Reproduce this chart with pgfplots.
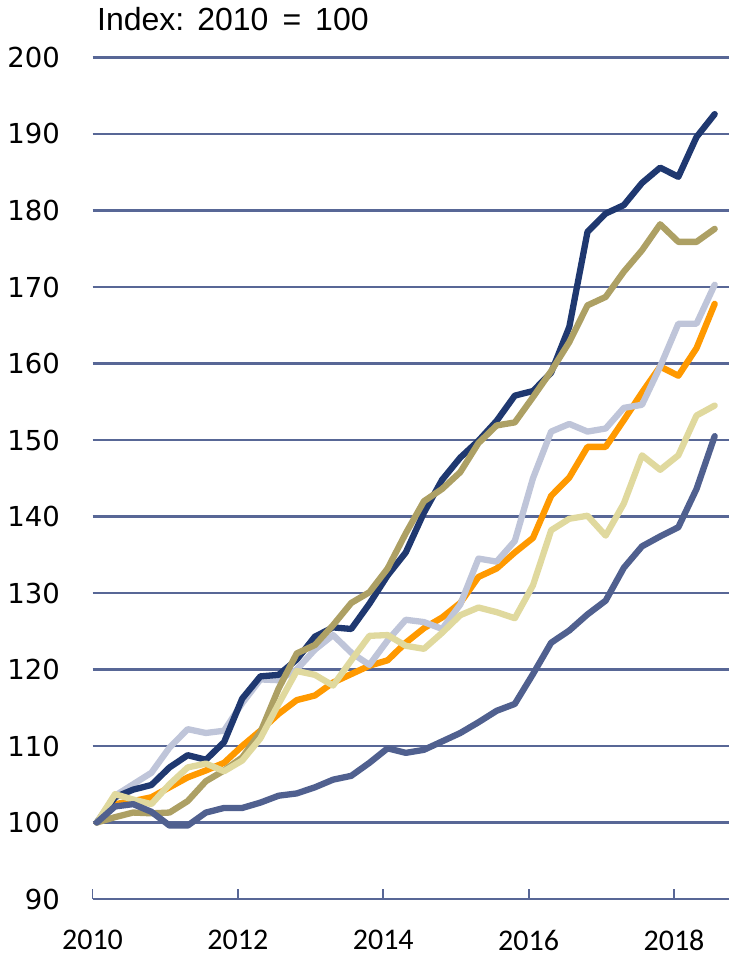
\documentclass[border=0pt]{standalone}
\usepackage{pgfplots}
\pgfplotsset{compat=1.18}
\usepackage{pgfplotstable}
\usepackage{fontspec}
\setmainfont{Liberation Sans}
\newfontfamily\yfont{DejaVu Sans}
\newfontfamily\xfont{Carlito}
\definecolor{navyc}{RGB}{31,56,112}
\definecolor{khakic}{RGB}{173,160,100}
\definecolor{lightc}{RGB}{191,197,217}
\definecolor{orangec}{RGB}{255,153,0}
\definecolor{beigec}{RGB}{224,217,158}
\definecolor{slatec}{RGB}{80,96,143}
\definecolor{gridc}{RGB}{88,103,150}

\pgfplotstableread{
t navy khaki light orange beige slate
2010.06 100 100 100 100 100 100
2010.31 103.3 100.7 103.5 102.4 103.7 102.1
2010.56 104.3 101.3 105.0 102.8 103.0 102.4
2010.81 104.9 101.2 106.5 103.3 102.4 101.4
2011.06 107.2 101.3 109.8 104.6 105.0 99.6
2011.31 108.8 102.8 112.2 105.9 107.2 99.6
2011.56 108.2 105.4 111.7 106.8 107.7 101.3
2011.81 110.5 106.8 112.0 107.8 106.7 101.9
2012.06 116.2 108.5 115.6 110.0 108.1 101.9
2012.31 119.1 111.8 118.7 112.0 111.0 102.6
2012.56 119.3 117.5 118.6 114.2 115.5 103.5
2012.81 121.3 122.1 120.0 116.0 119.8 103.8
2013.06 124.3 123.2 122.6 116.6 119.3 104.6
2013.31 125.5 125.8 124.5 118.3 117.9 105.6
2013.56 125.3 128.7 122.2 119.4 121.2 106.1
2013.81 128.6 130.1 120.6 120.5 124.4 107.8
2014.06 132.3 133.2 123.8 121.2 124.5 109.7
2014.31 135.3 137.8 126.5 123.5 123.1 109.1
2014.56 140.5 142.0 126.2 125.4 122.7 109.5
2014.81 144.8 143.6 125.3 126.8 124.8 110.6
2015.06 147.7 145.8 128.5 128.7 127.1 111.7
2015.31 149.9 149.6 134.5 132.1 128.1 113.1
2015.56 152.5 151.9 134.1 133.2 127.5 114.6
2015.81 155.8 152.3 136.8 135.3 126.7 115.5
2016.06 156.4 155.6 145.0 137.2 131.0 119.4
2016.31 158.8 159.0 151.1 142.7 138.2 123.5
2016.56 164.8 162.8 152.1 145.1 139.7 125.1
2016.81 177.2 167.6 151.1 149.1 140.1 127.2
2017.06 179.6 168.7 151.5 149.1 137.5 129.0
2017.31 180.7 172.0 154.2 152.6 141.7 133.3
2017.56 183.6 174.8 154.6 156.2 148.0 136.1
2017.81 185.6 178.2 159.6 159.6 146.1 137.4
2018.06 184.4 175.9 165.2 158.4 148.0 138.6
2018.31 189.6 175.9 165.2 162.0 153.2 143.6
2018.56 192.6 177.6 170.3 167.8 154.5 150.5
}\datatable

\begin{document}
\begin{tikzpicture}[x=1pt,y=1pt]
\path[use as bounding box] (0,0) rectangle (730,957);
\node[anchor=base west, inner sep=0pt, font=\fontsize{32}{32}\selectfont] at (97,926) {Index:\hspace{13pt}2010\hspace{14pt}=\hspace{14pt}100};
\begin{axis}[
  at={(92.5pt,58pt)}, anchor=south west,
  scale only axis, width=636pt, height=841.5pt,
  xmin=2010, xmax=2018.75, ymin=90, ymax=200,
  axis x line*=bottom, axis y line*=left,
  y axis line style={draw=none},
  x axis line style={draw=gridc, line width=2.2pt},
  xtick={2010,2012,2014,2016,2018},
  xticklabels={2010,2012,2014,2016,2018},
  ytick={90,100,...,200},
  ymajorgrids,
  major grid style={draw=gridc, line width=2.2pt},
  tick align=inside,
  major tick length=10pt,
  xtick style={draw=gridc, line width=1.8pt},
  ytick style={draw=none},
  /pgf/number format/assume math mode=true,
  /pgf/number format/1000 sep={},
  yticklabel style={font=\yfont\fontsize{27.5}{27.5}\selectfont, anchor=east, inner sep=0pt, xshift=-32.5pt},
  xticklabel style={font=\xfont\fontsize{30}{30}\selectfont, anchor=north, inner sep=0pt, yshift=-31pt},
  every axis plot/.append style={line width=6.3pt, line cap=round, line join=round, no markers},
]
\addplot[orangec] table[x=t, y=orange] {\datatable};
\addplot[lightc] table[x=t, y=light] {\datatable};
\addplot[navyc] table[x=t, y=navy] {\datatable};
\addplot[khakic] table[x=t, y=khaki] {\datatable};
\addplot[beigec] table[x=t, y=beige] {\datatable};
\addplot[slatec] table[x=t, y=slate] {\datatable};
\end{axis}
\end{tikzpicture}
\end{document}
